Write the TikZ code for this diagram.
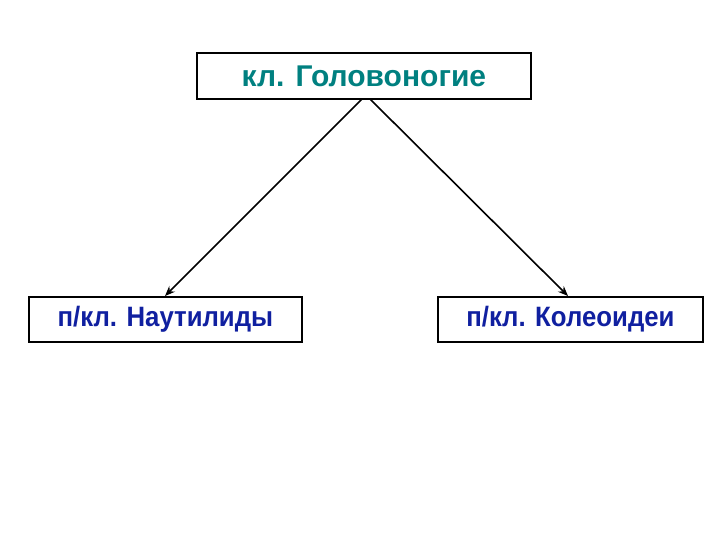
\documentclass[tikz,border=0pt]{standalone}
\usepackage{fontspec}
\setmainfont{Liberation Sans}
\usetikzlibrary{arrows.meta}
\definecolor{tealtxt}{RGB}{0,128,128}
\definecolor{bluetxt}{RGB}{16,32,160}
\begin{document}
\begin{tikzpicture}[x=1pt,y=-1pt,
  box/.style={draw,line width=1.8pt,minimum height=46pt,anchor=north west,font=\bfseries,inner sep=0pt},
  conn/.style={line width=1.6pt,-{Stealth[length=10pt,width=8pt]}}]
\useasboundingbox (0,0) rectangle (720,540);
\node[box,minimum width=334pt,text=tealtxt,font=\bfseries\fontsize{30}{34}\selectfont] (top) at (196,52) {кл. Головоногие};
\node[box,minimum width=273pt,minimum height=45pt,text=bluetxt,font=\bfseries\fontsize{28}{32}\selectfont] (l) at (28,296) {\scalebox{0.92}[1]{п/кл. Наутилиды}};
\node[box,minimum width=265pt,minimum height=45pt,text=bluetxt,font=\bfseries\fontsize{28}{32}\selectfont] (r) at (437,296) {\scalebox{0.92}[1]{п/кл. Колеоидеи}};
\coordinate (a1) at (362,99);
\coordinate (a2) at (370,99);
\draw[conn] (a1) -- (l.north -| 165,0);
\draw[conn] (a2) -- (r.north -| 568,0);
\end{tikzpicture}
\end{document}
